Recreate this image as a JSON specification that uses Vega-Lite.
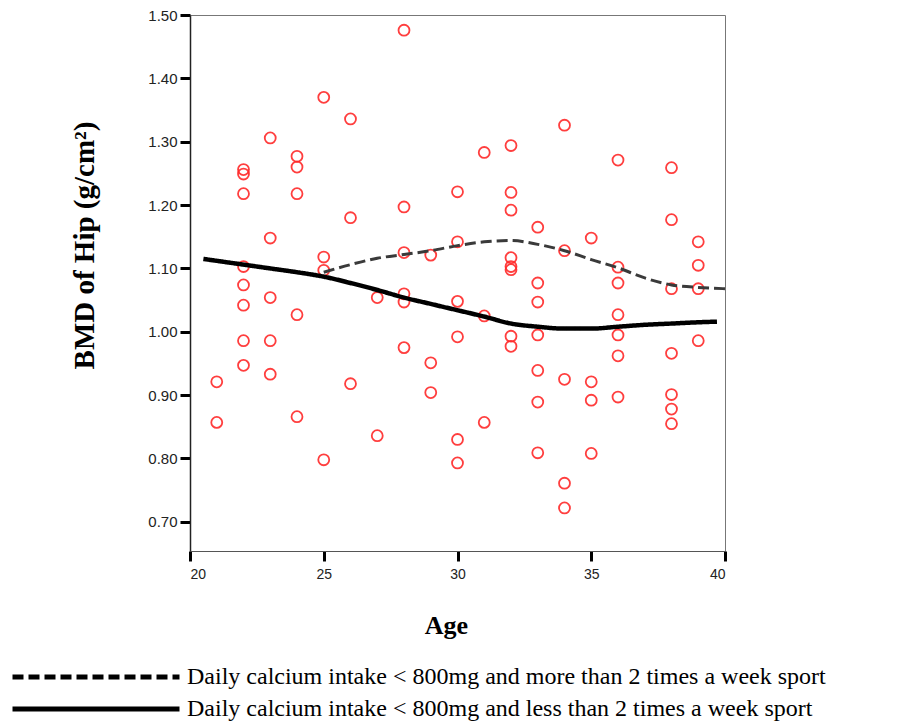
{
  "$schema": "https://vega.github.io/schema/vega-lite/v6.json",
  "autosize": {"type": "none"},
  "padding": {"left": 190, "top": 15, "right": 177, "bottom": 170},
  "width": 535,
  "height": 536,
  "background": "white",
  "config": {
    "view": {"stroke": "#777", "strokeWidth": 1},
    "axis": {"grid": false}
  },
  "datasets": {
    "pts": [
      {"age": 21, "bmd": 0.921}, {"age": 21, "bmd": 0.857},
      {"age": 22, "bmd": 1.256}, {"age": 22, "bmd": 1.249}, {"age": 22, "bmd": 1.218}, {"age": 22, "bmd": 1.103}, {"age": 22, "bmd": 1.074}, {"age": 22, "bmd": 1.042}, {"age": 22, "bmd": 0.986}, {"age": 22, "bmd": 0.947},
      {"age": 23, "bmd": 1.306}, {"age": 23, "bmd": 1.148}, {"age": 23, "bmd": 1.054}, {"age": 23, "bmd": 0.986}, {"age": 23, "bmd": 0.933},
      {"age": 24, "bmd": 1.277}, {"age": 24, "bmd": 1.26}, {"age": 24, "bmd": 1.218}, {"age": 24, "bmd": 1.027}, {"age": 24, "bmd": 0.866},
      {"age": 25, "bmd": 1.37}, {"age": 25, "bmd": 1.118}, {"age": 25, "bmd": 1.097}, {"age": 25, "bmd": 0.798},
      {"age": 26, "bmd": 1.336}, {"age": 26, "bmd": 1.18}, {"age": 26, "bmd": 0.918},
      {"age": 27, "bmd": 1.054}, {"age": 27, "bmd": 0.836},
      {"age": 28, "bmd": 1.476}, {"age": 28, "bmd": 1.197}, {"age": 28, "bmd": 1.125}, {"age": 28, "bmd": 1.06}, {"age": 28, "bmd": 1.047}, {"age": 28, "bmd": 0.975},
      {"age": 29, "bmd": 1.121}, {"age": 29, "bmd": 0.951}, {"age": 29, "bmd": 0.904},
      {"age": 30, "bmd": 1.221}, {"age": 30, "bmd": 1.142}, {"age": 30, "bmd": 1.048}, {"age": 30, "bmd": 0.992}, {"age": 30, "bmd": 0.83}, {"age": 30, "bmd": 0.793},
      {"age": 31, "bmd": 1.283}, {"age": 31, "bmd": 1.025}, {"age": 31, "bmd": 0.857},
      {"age": 32, "bmd": 1.294}, {"age": 32, "bmd": 1.22}, {"age": 32, "bmd": 1.192}, {"age": 32, "bmd": 1.117}, {"age": 32, "bmd": 1.103}, {"age": 32, "bmd": 1.098}, {"age": 32, "bmd": 0.993}, {"age": 32, "bmd": 0.977},
      {"age": 33, "bmd": 1.165}, {"age": 33, "bmd": 1.077}, {"age": 33, "bmd": 1.047}, {"age": 33, "bmd": 0.995}, {"age": 33, "bmd": 0.939}, {"age": 33, "bmd": 0.889}, {"age": 33, "bmd": 0.809},
      {"age": 34, "bmd": 1.326}, {"age": 34, "bmd": 1.128}, {"age": 34, "bmd": 0.925}, {"age": 34, "bmd": 0.761}, {"age": 34, "bmd": 0.722},
      {"age": 35, "bmd": 1.148}, {"age": 35, "bmd": 0.921}, {"age": 35, "bmd": 0.892}, {"age": 35, "bmd": 0.808},
      {"age": 36, "bmd": 1.271}, {"age": 36, "bmd": 1.102}, {"age": 36, "bmd": 1.077}, {"age": 36, "bmd": 1.027}, {"age": 36, "bmd": 0.995}, {"age": 36, "bmd": 0.962}, {"age": 36, "bmd": 0.897},
      {"age": 38, "bmd": 1.259}, {"age": 38, "bmd": 1.177}, {"age": 38, "bmd": 1.068}, {"age": 38, "bmd": 0.966}, {"age": 38, "bmd": 0.901}, {"age": 38, "bmd": 0.878}, {"age": 38, "bmd": 0.855},
      {"age": 39, "bmd": 1.142}, {"age": 39, "bmd": 1.105}, {"age": 39, "bmd": 1.068}, {"age": 39, "bmd": 0.986}
    ],
    "fits": [
      {"group": "Daily calcium intake < 800mg and more than 2 times a week sport", "age": 25, "bmd": 1.094},
      {"group": "Daily calcium intake < 800mg and more than 2 times a week sport", "age": 26, "bmd": 1.106},
      {"group": "Daily calcium intake < 800mg and more than 2 times a week sport", "age": 27, "bmd": 1.116},
      {"group": "Daily calcium intake < 800mg and more than 2 times a week sport", "age": 28, "bmd": 1.122},
      {"group": "Daily calcium intake < 800mg and more than 2 times a week sport", "age": 29, "bmd": 1.128},
      {"group": "Daily calcium intake < 800mg and more than 2 times a week sport", "age": 30, "bmd": 1.136},
      {"group": "Daily calcium intake < 800mg and more than 2 times a week sport", "age": 31, "bmd": 1.142},
      {"group": "Daily calcium intake < 800mg and more than 2 times a week sport", "age": 32, "bmd": 1.144},
      {"group": "Daily calcium intake < 800mg and more than 2 times a week sport", "age": 33, "bmd": 1.138},
      {"group": "Daily calcium intake < 800mg and more than 2 times a week sport", "age": 34, "bmd": 1.128},
      {"group": "Daily calcium intake < 800mg and more than 2 times a week sport", "age": 35, "bmd": 1.114},
      {"group": "Daily calcium intake < 800mg and more than 2 times a week sport", "age": 36, "bmd": 1.101},
      {"group": "Daily calcium intake < 800mg and more than 2 times a week sport", "age": 37, "bmd": 1.085},
      {"group": "Daily calcium intake < 800mg and more than 2 times a week sport", "age": 38, "bmd": 1.074},
      {"group": "Daily calcium intake < 800mg and more than 2 times a week sport", "age": 39, "bmd": 1.07},
      {"group": "Daily calcium intake < 800mg and more than 2 times a week sport", "age": 40, "bmd": 1.068},
      {"group": "Daily calcium intake < 800mg and less than 2 times a week sport", "age": 20.5, "bmd": 1.115},
      {"group": "Daily calcium intake < 800mg and less than 2 times a week sport", "age": 21, "bmd": 1.112},
      {"group": "Daily calcium intake < 800mg and less than 2 times a week sport", "age": 22, "bmd": 1.106},
      {"group": "Daily calcium intake < 800mg and less than 2 times a week sport", "age": 23, "bmd": 1.1},
      {"group": "Daily calcium intake < 800mg and less than 2 times a week sport", "age": 24, "bmd": 1.094},
      {"group": "Daily calcium intake < 800mg and less than 2 times a week sport", "age": 25, "bmd": 1.087},
      {"group": "Daily calcium intake < 800mg and less than 2 times a week sport", "age": 26, "bmd": 1.077},
      {"group": "Daily calcium intake < 800mg and less than 2 times a week sport", "age": 27, "bmd": 1.066},
      {"group": "Daily calcium intake < 800mg and less than 2 times a week sport", "age": 28, "bmd": 1.054},
      {"group": "Daily calcium intake < 800mg and less than 2 times a week sport", "age": 29, "bmd": 1.044},
      {"group": "Daily calcium intake < 800mg and less than 2 times a week sport", "age": 30, "bmd": 1.034},
      {"group": "Daily calcium intake < 800mg and less than 2 times a week sport", "age": 31, "bmd": 1.024},
      {"group": "Daily calcium intake < 800mg and less than 2 times a week sport", "age": 32, "bmd": 1.013},
      {"group": "Daily calcium intake < 800mg and less than 2 times a week sport", "age": 33, "bmd": 1.008},
      {"group": "Daily calcium intake < 800mg and less than 2 times a week sport", "age": 34, "bmd": 1.005},
      {"group": "Daily calcium intake < 800mg and less than 2 times a week sport", "age": 35, "bmd": 1.005},
      {"group": "Daily calcium intake < 800mg and less than 2 times a week sport", "age": 36, "bmd": 1.008},
      {"group": "Daily calcium intake < 800mg and less than 2 times a week sport", "age": 37, "bmd": 1.011},
      {"group": "Daily calcium intake < 800mg and less than 2 times a week sport", "age": 38, "bmd": 1.013},
      {"group": "Daily calcium intake < 800mg and less than 2 times a week sport", "age": 39, "bmd": 1.015},
      {"group": "Daily calcium intake < 800mg and less than 2 times a week sport", "age": 39.7, "bmd": 1.016}
    ]
  },
  "encoding": {
    "x": {
      "field": "age", "type": "quantitative",
      "scale": {"domain": [20, 40], "nice": false, "zero": false},
      "axis": {
        "values": [20, 25, 30, 35, 40],
        "title": "Age",
        "titleFont": "Liberation Serif", "titleFontSize": 26, "titleFontWeight": "bold", "titleColor": "black",
        "titleX": 256, "titleY": 82, "titleBaseline": "alphabetic", "titleAlign": "center",
        "labelFont": "Liberation Sans Narrow, Liberation Sans", "labelFontSize": 14, "labelColor": "#222",
        "labelPadding": 6, "tickSize": 10, "tickWidth": 3, "tickColor": "black",
        "domainColor": "#555", "domainWidth": 1
      }
    },
    "y": {
      "field": "bmd", "type": "quantitative",
      "scale": {"domain": [0.654, 1.5], "nice": false, "zero": false},
      "axis": {
        "values": [0.7, 0.8, 0.9, 1.0, 1.1, 1.2, 1.3, 1.4, 1.5],
        "format": ".2f",
        "title": "BMD of Hip (g/cm²)",
        "titleFont": "Liberation Serif", "titleFontSize": 29, "titleFontWeight": "bold", "titleColor": "black",
        "titleX": -97, "titleY": 230, "titleBaseline": "alphabetic", "titleAlign": "center", "titleAngle": -90,
        "labelFont": "Liberation Sans", "labelFontSize": 15, "labelColor": "#222",
        "labelPadding": 3, "tickSize": 10, "tickWidth": 3, "tickColor": "black",
        "domainColor": "#222", "domainWidth": 1.5
      }
    }
  },
  "layer": [
    {
      "data": {"name": "pts"},
      "mark": {"type": "point", "shape": "circle", "filled": false, "size": 120, "strokeWidth": 1.8, "color": "#ff2a2a", "opacity": 0.9}
    },
    {
      "data": {"name": "fits"},
      "mark": {"type": "line", "interpolate": "monotone"},
      "encoding": {
        "strokeDash": {
          "field": "group", "type": "nominal",
          "scale": {
            "domain": ["Daily calcium intake < 800mg and more than 2 times a week sport", "Daily calcium intake < 800mg and less than 2 times a week sport"],
            "range": [[11, 5], [1, 0]]
          },
          "legend": {
            "orient": "none", "legendX": -180, "legendY": 651, "title": null,
            "symbolType": "stroke", "symbolSize": 27889, "symbolStrokeWidth": 5, "symbolStrokeColor": "black",
            "clipHeight": 22, "rowPadding": 8, "labelOffset": 5, "padding": 0,
            "labelFont": "Liberation Serif", "labelFontSize": 24, "labelColor": "black", "labelLimit": 0
          }
        },
        "color": {
          "condition": {"test": "indexof(datum.group, 'more') >= 0", "value": "#3a3a3a"},
          "value": "#000000"
        },
        "strokeWidth": {
          "condition": {"test": "indexof(datum.group, 'more') >= 0", "value": 3},
          "value": 4.5
        }
      }
    }
  ]
}
